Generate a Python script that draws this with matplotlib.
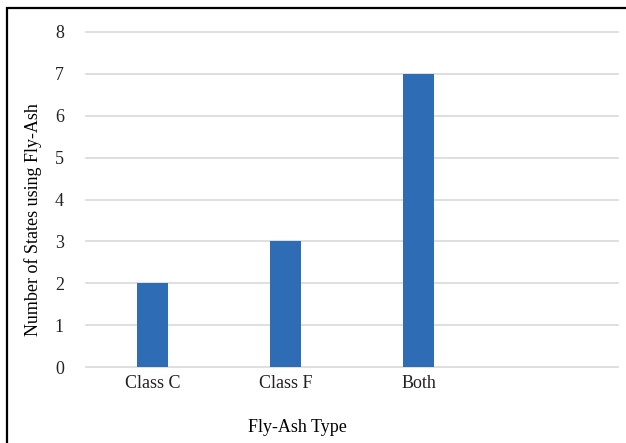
import matplotlib
matplotlib.use('Agg')
import matplotlib.pyplot as plt
from matplotlib.patches import Rectangle

# chart data
categories = ['Class C', 'Class F', 'Both', '']
counts = [2, 3, 7, 0]
yticks = [0, 1, 2, 3, 4, 5, 6, 7, 8]

plt.rcParams['font.family'] = ['Liberation Serif', 'DejaVu Serif']

fig = plt.figure(figsize=(6.26, 4.43), dpi=100)
ax = fig.add_axes([86/626, 1 - 367/443, 532/626, 335/443])

xs = range(len(categories))
ax.bar(xs, counts, width=0.226, color='#2E6DB6', zorder=3)

ax.set_xlim(-0.5, len(categories) - 0.5)
ax.set_ylim(0, 8)
ax.set_yticks(yticks)
ax.set_xticks(list(xs))
ax.set_xticklabels(categories)

ax.grid(axis='y', color='#D9D9D9', linewidth=1.2, zorder=0)
for gl in ax.get_ygridlines():
    gl.set_clip_on(False)
for s in ax.spines.values():
    s.set_visible(False)
ax.tick_params(axis='both', length=0, labelsize=13, colors='#222222')
ax.tick_params(axis='y', pad=16)
ax.tick_params(axis='x', pad=6)

ax.set_xlabel('Fly-Ash Type', fontsize=13)
ax.xaxis.set_label_coords((297 - 86) / 532, -0.155)
ax.set_ylabel('Number of States using Fly-Ash', fontsize=13)
ax.yaxis.set_label_coords((42 - 86) / 532, (367 - 220) / 335)

# frame around the figure (right and bottom edges cut off in original)
fig.patches.append(Rectangle((7/626, -0.05), 1.1, 1 - 8/443 + 0.05,
                             transform=fig.transFigure, fill=False,
                             edgecolor='black', linewidth=1.6))

plt.savefig('out.png', dpi=100)
